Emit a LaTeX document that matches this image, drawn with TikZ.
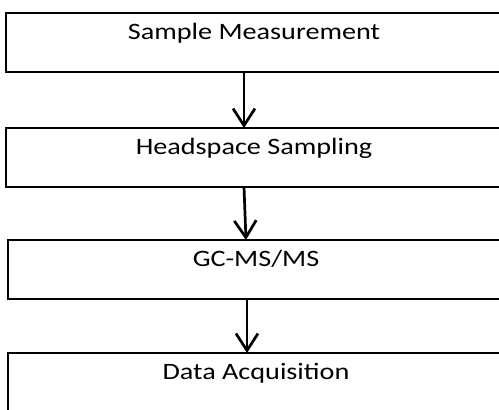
\documentclass[tikz,border=0pt]{standalone}
\usepackage{fontspec}
\setmainfont{Carlito}
\usepackage{graphicx}
\usetikzlibrary{arrows.meta, positioning}

% text in the boxes is set wide
\newcommand{\widetext}[1]{\scalebox{1.2}[1]{#1}}

\begin{document}
\begin{tikzpicture}[x=1pt, y=-1pt,
    stage/.style={rectangle, anchor=north west, outer sep=0pt,
        minimum width=496pt, inner sep=0pt, text height=26pt, text depth=33pt,
        font=\fontsize{23.5}{28}\selectfont},
    frame/.style={line width=2.5pt},
    flow/.style={-{Straight Barb[length=17pt, width=22pt]}, line width=2.7pt}]
\useasboundingbox (0,0) rectangle (499,410);

% Stages
\node[stage] (meas) at (6,13) {\widetext{Sample Measurement}};
\node[stage] (head) at (6,128) {\widetext{Headspace Sampling}};
\node[stage] (gcms) at (8,240) {\widetext{GC-MS/MS}};
\node[stage, text depth=45pt] (acq) at (8,353) {\widetext{Data Acquisition}};

% Box outlines, open at the right where the page cuts them
\foreach \s in {meas, head, gcms, acq}
  \draw[frame] ([xshift=20pt]\s.north east) -- (\s.north west)
    -- (\s.south west) -- ([xshift=20pt]\s.south east);

% Flow between stages
\draw[flow] ([xshift=-10pt]meas.south) -- ([xshift=-10pt]head.north);
\draw[flow] ([xshift=-10pt]head.south) -- ([xshift=-10pt]gcms.north);
\draw[flow] ([xshift=-9pt]gcms.south) -- ([xshift=-9pt]acq.north);
\end{tikzpicture}
\end{document}
